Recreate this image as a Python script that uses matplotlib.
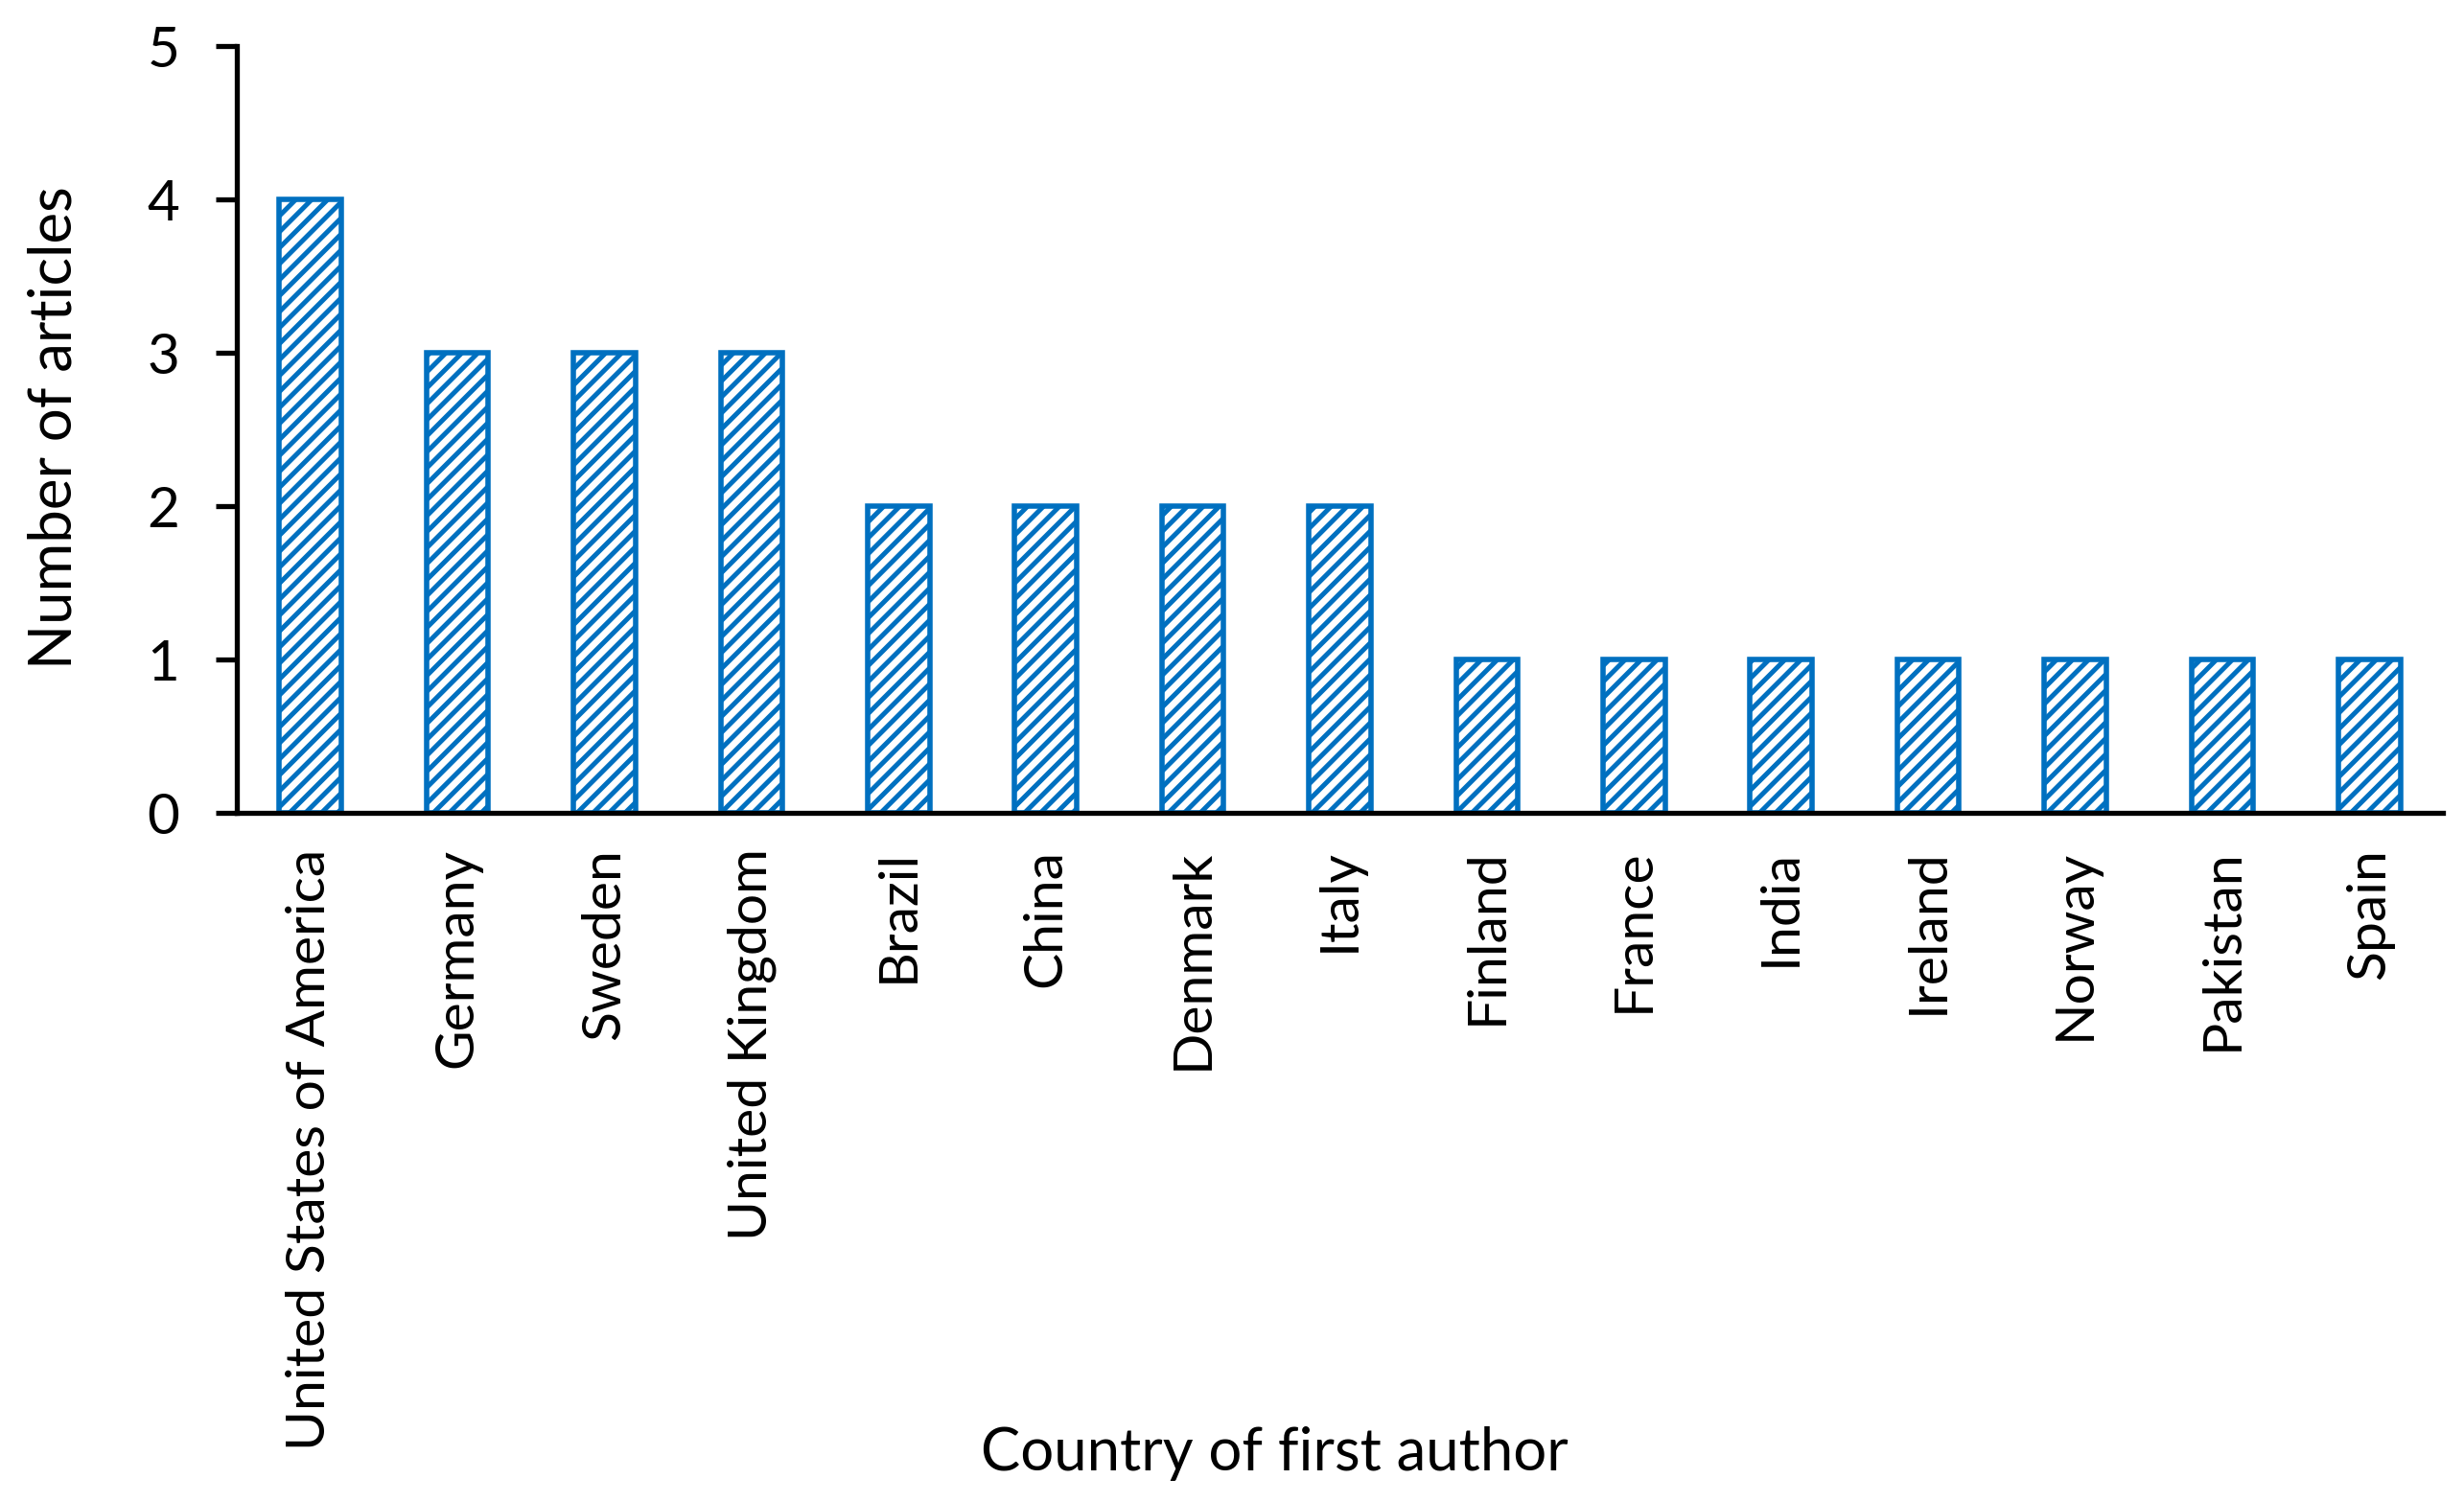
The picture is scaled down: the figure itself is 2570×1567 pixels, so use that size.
import matplotlib
matplotlib.use("Agg")
import matplotlib.pyplot as plt
import numpy as np

countries = ["United States of America", "Germany", "Sweden", "United Kingdom",
             "Brazil", "China", "Denmark", "Italy", "Finland", "France",
             "India", "Ireland", "Norway", "Pakistan", "Spain"]
articles = [4, 3, 3, 3, 2, 2, 2, 2, 1, 1, 1, 1, 1, 1, 1]
y_ticks = [0, 1, 2, 3, 4, 5]

blue = "#0070C0"
plt.rcParams["font.family"] = ["Lato", "DejaVu Sans"]
plt.rcParams["hatch.linewidth"] = 3.6

fig = plt.figure(figsize=(25.70, 15.67), dpi=100)
ax = fig.add_axes([247/2570, 1 - 848/1567, (2548-247)/2570, 800/1567])

x = np.arange(len(countries))
ax.bar(x, articles, width=0.42, color="white", edgecolor=blue,
       hatch="//", linewidth=4)

ax.set_xlim(-0.5, len(countries) - 0.5)
ax.set_ylim(0, 5)
ax.set_yticks(y_ticks)
ax.set_xticks(x)
ax.set_xticklabels(countries, rotation=90, va="top", ha="center")

for s in ["top", "right"]:
    ax.spines[s].set_visible(False)
ax.spines["left"].set_linewidth(3.8)
ax.spines["bottom"].set_linewidth(3.8)
ax.tick_params(axis="y", direction="out", length=16, width=3.8, pad=27, labelsize=42)
ax.tick_params(axis="x", length=0, pad=27, labelsize=41)

fig.text(1329/2570, 0.0325, "Country of first author", ha="center", va="center", fontsize=44.5)
fig.text(57/2570, 1 - 446/1567, "Number of articles", ha="center", va="center",
         rotation=90, fontsize=44.5)

plt.savefig("out.png", dpi=100)
